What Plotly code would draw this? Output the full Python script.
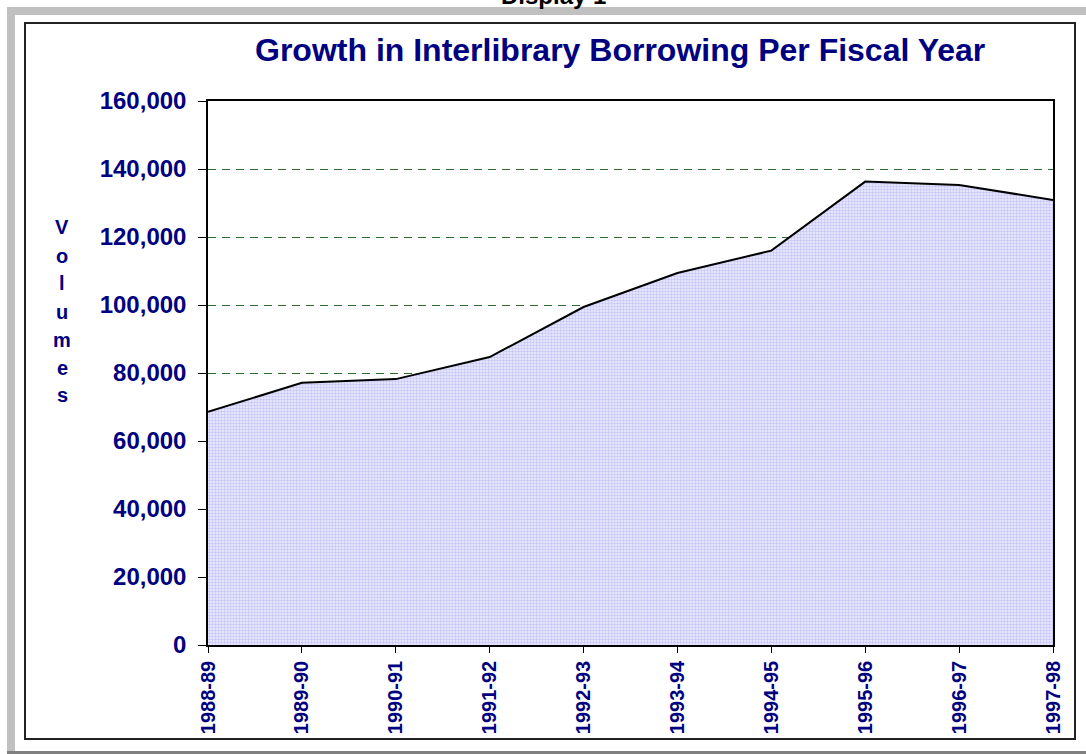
import plotly.graph_objects as go

fiscal_years = ["1988-89", "1989-90", "1990-91", "1991-92", "1992-93",
                "1993-94", "1994-95", "1995-96", "1996-97", "1997-98"]
volumes = [68600, 77100, 78200, 84700, 99400, 109400, 116000, 136300, 135300, 130900]
y_ticks = [0, 20000, 40000, 60000, 80000, 100000, 120000, 140000, 160000]
axis_letters = list("Volumes")

W, H = 1086, 754
L, R, T, B = 208, 1053, 101, 645
NAVY = "#000080"
FONT = "Liberation Sans, Arial, sans-serif"


def px(x):
    return (x - L) / (R - L)


def py(y):
    return (B - y) / (B - T)


fig = go.Figure()
fig.add_trace(go.Scatter(
    x=fiscal_years, y=volumes, mode="lines",
    line=dict(color="black", width=2),
    fill="tozeroy",
    fillcolor="#e6e6ff",
    fillpattern=dict(shape=".", fgcolor="#9c9cf0", bgcolor="#eeeeff", size=3, solidity=0.5),
    hoverinfo="x+y", showlegend=False,
))

shapes = [
    dict(type="rect", xref="paper", yref="paper", x0=px(7), x1=px(1087), y0=py(7), y1=py(15),
         fillcolor="#c0c0c0", line=dict(width=0), layer="below"),
    dict(type="rect", xref="paper", yref="paper", x0=px(7), x1=px(15), y0=py(7), y1=py(751),
         fillcolor="#c0c0c0", line=dict(width=0), layer="below"),
    dict(type="rect", xref="paper", yref="paper", x0=px(7), x1=px(1087), y0=py(751), y1=py(755),
         fillcolor="#808080", line=dict(width=0), layer="below"),
    dict(type="rect", xref="paper", yref="paper", x0=px(25), x1=px(1075), y0=py(23), y1=py(739),
         fillcolor="rgba(0,0,0,0)", line=dict(color="#222222", width=2), layer="below"),
]

annotations = [
    dict(text="<b>Growth in Interlibrary Borrowing Per Fiscal Year</b>", xref="paper", yref="paper",
         x=px(620), y=py(50), xanchor="center", yanchor="middle", showarrow=False,
         font=dict(family=FONT, size=32, color=NAVY)),
    dict(text="<b>Display 1</b>", xref="paper", yref="paper",
         x=px(553), y=py(-4), xanchor="center", yanchor="middle", showarrow=False,
         font=dict(family=FONT, size=24, color="black")),
]
letter_y = [227, 256, 283, 312, 340, 368, 395]
for ch, yy in zip(axis_letters, letter_y):
    annotations.append(dict(text=f"<b>{ch}</b>", xref="paper", yref="paper",
                            x=px(62), y=py(yy), xanchor="center", yanchor="middle",
                            showarrow=False, font=dict(family=FONT, size=20, color=NAVY)))

fig.update_layout(
    width=W, height=H,
    margin=dict(l=L, r=W - R, t=T, b=H - B, autoexpand=False),
    paper_bgcolor="white", plot_bgcolor="white",
    shapes=shapes, annotations=annotations,
    font=dict(family=FONT, color=NAVY),
)
fig.update_xaxes(
    type="category", range=[0, 9], showgrid=False,
    showline=True, linecolor="black", linewidth=1.5, mirror=True,
    ticks="outside", ticklen=6, tickcolor="black", tickwidth=1,
    tickangle=-90, tickfont=dict(family=FONT, size=20, color=NAVY, weight="bold"),
    ticklabelstandoff=0,
)
fig.update_yaxes(
    range=[0, 160000], tickvals=y_ticks, tickformat=",",
    showgrid=True, gridcolor="#2e6b2e", griddash="8px,6px", gridwidth=1,
    showline=True, linecolor="black", linewidth=1.5, mirror=True,
    ticks="outside", ticklen=8, tickcolor="black", tickwidth=1,
    tickfont=dict(family=FONT, size=24, color=NAVY, weight="bold"), zeroline=False,
    ticklabelstandoff=7,
)
fig.write_html(
    "out.html",
    config={"displayModeBar": False},
    post_script="document.body.style.margin='0';document.body.style.overflow='hidden';",
)
